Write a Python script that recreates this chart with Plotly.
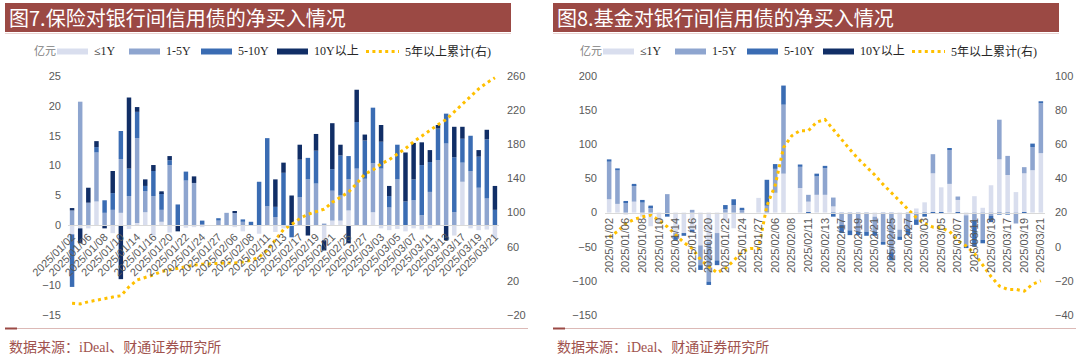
import plotly.graph_objects as go

# ---------------- data ----------------
dates = ["2025/01/02", "2025/01/03", "2025/01/06", "2025/01/07", "2025/01/08", "2025/01/09",
         "2025/01/10", "2025/01/13", "2025/01/14", "2025/01/15", "2025/01/16", "2025/01/17",
         "2025/01/20", "2025/01/21", "2025/01/22", "2025/01/23", "2025/01/24", "2025/01/26",
         "2025/01/27", "2025/02/05", "2025/02/06", "2025/02/07", "2025/02/08", "2025/02/10",
         "2025/02/11", "2025/02/12", "2025/02/13", "2025/02/14", "2025/02/17", "2025/02/18",
         "2025/02/19", "2025/02/20", "2025/02/21", "2025/02/24", "2025/02/25", "2025/02/26",
         "2025/02/27", "2025/02/28", "2025/03/03", "2025/03/04", "2025/03/05", "2025/03/06",
         "2025/03/07", "2025/03/10", "2025/03/11", "2025/03/12", "2025/03/13", "2025/03/14",
         "2025/03/17", "2025/03/18", "2025/03/19", "2025/03/20", "2025/03/21"]
tick_dates = dates[::2]

series_names = ["≤1Y", "1-5Y", "5-10Y", "10Y以上"]
line_name = "5年以上累计(右)"

# 保险 (亿元)
ins_le1y = [-1.5, -0.5, -0.5, 4.0, 0, -1.3, 2.1, -0.6, 0.4, 2.2,
            -1.7, 0.6, -1.2, 0, -0.4, -0.3, -0.3, 0, 0, 0,
            -0.3, -1.0, 0, -1.4, 0, -1.1, -0.5, 0, 0, 0,
            0, -2.5, 0.8, 0.8, 2.5, 0, 0, 2.2, -0.5, -0.8,
            -0.6, -1.0, -0.5, -0.7, -0.5, 0, 0, -1.7, 7.3, -0.5,
            -0.8, -0.7, -2.2]
ins_1_5y = [2.5, 20.7, 3.8, 8.2, 2.1, 2.6, 9.0, 4.9, 14.2, 3.5,
            4.9, 2.0, 10.1, 0, 7.5, 7.1, 0.2, 0, 0.8, 2.1,
            2.1, 0.6, 0, 0, 3.2, 1.4, 0, 0, 4.7, 7.7,
            7.0, 0.3, 5.0, 4.2, 5.2, 9.5, 7.8, 8.2, 9.5, 3.0,
            7.7, 0, 4.2, 1.7, 5.6, 10.9, 13.7, 2.2, 3.2, 9.1,
            6.3, 4.5, 0]
ins_5_10y = [-8.8, 0, 0, 0.9, 2.1, 2.8, 4.7, 4.6, 4.4, 0.9,
             4.2, 2.8, 0.8, 3.5, 1.5, 0, 0.6, 0, 0.4, 0,
             0, 0.4, 0.6, 7.3, 11.4, 1.7, 8.8, -2.0, 6.3, 3.6,
             5.5, 0, 3.6, 6.7, 3.9, 7.8, 6.4, 9.3, 4.5, 1.9,
             5.8, 4.0, 3.5, 8.4, 5.0, 5.3, 5.0, 9.2, 4.0, 5.9,
             5.2, 9.9, 2.6]
ins_10y = [0.4, -2.5, 2.5, 1.0, -0.5, 3.7, -9.0, 11.9, 0.8, 1.1,
           1.0, 0.3, 0.7, -1.0, 0, 1.1, 0, 0, 0, 0,
           0.2, 0, 0, 0, 0, 4.6, 1.7, 5.0, 2.5, -1.7,
           2.8, -1.7, 7.7, 1.8, -3.0, 5.4, 1.0, 0, 2.8, 1.7,
           0, 8.2, 6.1, 3.8, 2.0, 0.6, -2.5, 5.1, 2.0, 0,
           1.1, 1.6, 4.0]
ins_cum5 = [-6.3, -7, -4.5, -2.5, -1, 1, 2.5, 13, 21, 24,
            27, 31, 33, 35, 37, 38.5, 39.5, 40, 41, 41,
            41, 42, 44, 48, 56, 68, 80, 86, 93, 98,
            101, 104, 112, 118, 124, 134, 145, 150, 157, 162,
            168, 175, 183, 190, 197, 203, 209, 218, 228, 237,
            245, 252, 258]

# 基金 (亿元)
fund_le1y = [19.5, 12.7, -3, 16, -6, -20, -16, 0, -30, -30,
             -25, -48, -43, -30, -12, -23, -2, 0, 21.5, 0,
             29, 57, 0, 36, 16, 26, 26, 9, 0, 0,
             0, 0, -6, 0, 0, -25, 0, 6, 15, 57.5,
             37, 42, 18.5, -4, 24, 7, 40, 78, 55, 30,
             57.5, 62, 87]
fund_1_5y = [55, 49, 14.6, 24, 14.6, 7.8, 0, 27, -4, 0,
             4, -29, -58, -40, 5, 11, 5, 0, 0, 10,
             35, 101, 0, 31, 10, 27, 39, 13, -18, -26,
             -28, -28, -22, -43, -58, -10, -24, -10, 0, 28,
             0, 50, 5, -44, -12, -40, -5, 58, 28, -16,
             9, 34, 73]
fund_5_10y = [3.4, 3, 2.4, 2, 3.9, 2.4, 0, -6, -6, -4,
              -4, -7, -5, -7, 6, 8.5, 2, 0, 0, 38,
              7, 28, 0, 3.4, -2, 4, 3.4, -6, -12, -7,
              -5, -6, -6, -4, -12, -5, -9, -8, -6, -2,
              -2, 2.4, -2, -4, -38, -5, -9, -3, -3, 0,
              -2, 5, 3]
fund_10y = [0] * 53
fund_cum5 = [5.5, 9, 13.5, 16, 17.5, 18.5, 15.5, 11.7, 7, 2.5,
             -1, -7.5, -11.7, -15.2, -12.7, -8.2, -3, -1, -1, 24,
             36, 58, 65, 68, 68, 73, 74.5, 68.5, 62.5, 57,
             51.5, 47, 42, 36.5, 31.5, 26.5, 21.5, 17, 13.5, 11.5,
             11, 9, 3.5, 0.5, -4, -11, -17.5, -23, -25, -25,
             -26, -22, -20]

ins_left_ticks = [25, 20, 15, 10, 5, 0, -10, -15]
ins_right_ticks = [260, 220, 180, 140, 100, 60, 20, -20]
fund_left_ticks = [200, 150, 100, 50, 0, -50, -100, -150]
fund_right_ticks = [100, 80, 60, 40, 20, 0, -20, -40]

# ---------------- style ----------------
W, H = 1080, 357
BAR_COLORS = ["#d9deee", "#8ea5cf", "#3a6cb3", "#112e66"]
LINE_COLOR = "#ffc000"
TITLE_BG = "#9b4944"
TICK_FONT = dict(family="Liberation Sans, Arial, sans-serif", size=11, color="#595959")
CJK = "Noto Sans CJK SC"
SERIF = "Liberation Serif, " + CJK


def px(x):
    return x / W


def py(y):
    return 1 - y / H


fig = go.Figure()


def add_panel(xa, ya, ya2, vals_list, cum):
    for name, vals, col in zip(series_names, vals_list, BAR_COLORS):
        fig.add_trace(go.Bar(x=dates, y=vals, name=name, xaxis=xa, yaxis=ya,
                             marker=dict(color=col, line=dict(width=0)), showlegend=False))
    fig.add_trace(go.Scatter(x=dates, y=cum, name=line_name, mode="lines", xaxis=xa, yaxis=ya2,
                             line=dict(color=LINE_COLOR, width=3, dash="3px,3.6px"),
                             showlegend=False))


add_panel("x", "y", "y2", [ins_le1y, ins_1_5y, ins_5_10y, ins_10y], ins_cum5)
add_panel("x2", "y3", "y4", [fund_le1y, fund_1_5y, fund_5_10y, fund_10y], fund_cum5)

plot_top, plot_bot = 76, 315
ydom = [py(plot_bot), py(plot_top)]

ins_range = [-15, 25]
ins_range2 = [-20, 260]
fund_range = [-150, 200]
fund_range2 = [-40, 100]


def zero_pos(r):
    frac = (0 - r[0]) / (r[1] - r[0])
    return ydom[0] + frac * (ydom[1] - ydom[0])


common_x = dict(type="category", tickvals=tick_dates, ticktext=tick_dates, showline=True,
                linecolor="#d9d9d9", linewidth=1, showgrid=False, zeroline=False,
                ticks="", tickfont=TICK_FONT, anchor="free", fixedrange=True)
common_y = dict(showgrid=False, zeroline=False, showline=False, ticks="",
                tickfont=TICK_FONT, domain=ydom, fixedrange=True)

fig.update_layout(
    width=W, height=H, margin=dict(l=0, r=0, t=0, b=0),
    paper_bgcolor="white", plot_bgcolor="rgba(0,0,0,0)",
    template="none", barmode="relative", bargap=0.45, showlegend=False,
    font=dict(family="Liberation Sans, " + CJK),
    xaxis=dict(common_x, domain=[px(68), px(499)], position=zero_pos(ins_range), tickangle=-45),
    yaxis=dict(common_y, anchor="x", range=ins_range, tickvals=ins_left_ticks, ticklabelstandoff=6),
    yaxis2=dict(common_y, anchor="x", overlaying="y", side="right", range=ins_range2,
                tickvals=ins_right_ticks, ticklabelstandoff=7),
    xaxis2=dict(common_x, domain=[px(605), px(1045)], position=zero_pos(fund_range), tickangle=-90),
    yaxis3=dict(common_y, anchor="x2", range=fund_range, tickvals=fund_left_ticks, ticklabelstandoff=7),
    yaxis4=dict(common_y, anchor="x2", overlaying="y3", side="right", range=fund_range2,
                tickvals=fund_right_ticks, ticklabelstandoff=9),
)

shapes = []
annotations = []


def panel_frame(x0, title, dx_legend):
    # title bar
    shapes.append(dict(type="rect", xref="paper", yref="paper", x0=px(x0), x1=px(x0 + 506),
                       y0=py(32), y1=py(3), fillcolor=TITLE_BG, line=dict(width=0), layer="below"))
    shapes.append(dict(type="line", xref="paper", yref="paper", x0=px(x0), x1=px(x0 + 506),
                       y0=py(33.5), y1=py(33.5), line=dict(color="#ead3d1", width=1)))
    annotations.append(dict(text=title, xref="paper", yref="paper", x=px(x0 + 2), y=py(17.5),
                            xanchor="left", yanchor="middle", showarrow=False,
                            font=dict(family=CJK, size=20, color="#ffffff")))
    # bottom rule and source
    shapes.append(dict(type="line", xref="paper", yref="paper", x0=px(x0), x1=px(x0 + 523),
                       y0=py(328.5), y1=py(328.5), line=dict(color="#dcb9b6", width=1)))
    shapes.append(dict(type="line", xref="paper", yref="paper", x0=px(x0), x1=px(x0 + 12),
                       y0=py(328.5), y1=py(328.5), line=dict(color=TITLE_BG, width=2)))
    annotations.append(dict(text="数据来源：iDeal、财通证券研究所", xref="paper", yref="paper",
                            x=px(x0 + 2), y=py(347), xanchor="left", yanchor="middle",
                            showarrow=False, font=dict(family=SERIF, size=14, color="#a0524d")))
    # legend
    ly = 51.5
    annotations.append(dict(text="亿元", xref="paper", yref="paper", x=px(32 + dx_legend), y=py(ly),
                            xanchor="left", yanchor="middle", showarrow=False,
                            font=dict(family=SERIF, size=11, color="#808080")))
    sw = [57, 129, 201, 277]
    for name, col, s in zip(series_names, BAR_COLORS, sw):
        shapes.append(dict(type="rect", xref="paper", yref="paper", x0=px(s + dx_legend),
                           x1=px(s + 31 + dx_legend), y0=py(54.5), y1=py(48.5),
                           fillcolor=col, line=dict(width=0)))
        annotations.append(dict(text=name, xref="paper", yref="paper", x=px(s + 35 + dx_legend),
                                y=py(ly), xanchor="left", yanchor="middle", showarrow=False,
                                font=dict(family=SERIF, size=12, color="#262626")))
    shapes.append(dict(type="line", xref="paper", yref="paper", x0=px(366 + dx_legend),
                       x1=px(399 + dx_legend), y0=py(ly), y1=py(ly),
                       line=dict(color=LINE_COLOR, width=3, dash="3px,3.4px")))
    annotations.append(dict(text=line_name, xref="paper", yref="paper", x=px(403 + dx_legend),
                            y=py(ly), xanchor="left", yanchor="middle", showarrow=False,
                            font=dict(family=SERIF, size=12, color="#262626")))


panel_frame(5, "图7.保险对银行间信用债的净买入情况", 0)
panel_frame(553, "图8.基金对银行间信用债的净买入情况", 546)

fig.update_layout(shapes=shapes, annotations=annotations)

fig.write_html("out.html", config={"displayModeBar": False},
               post_script="document.body.style.margin='0';document.body.style.overflow='hidden';")
